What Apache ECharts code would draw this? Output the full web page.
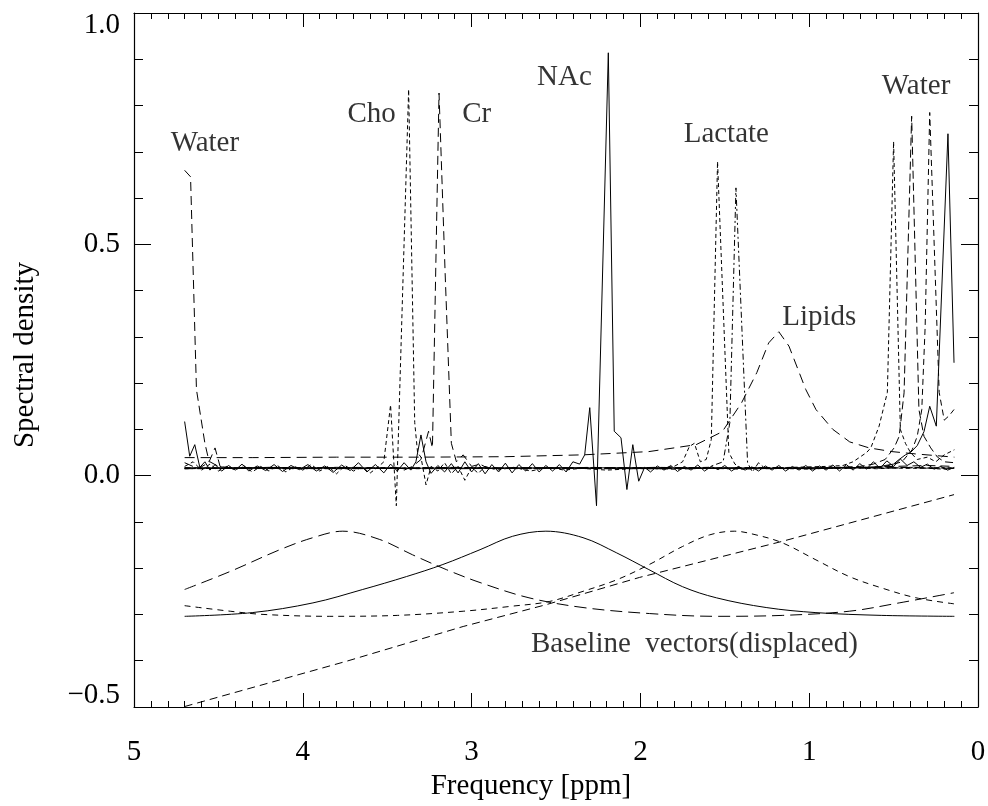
<!DOCTYPE html>
<html>
<head>
<meta charset="utf-8">
<script src="https://cdn.jsdelivr.net/npm/echarts@6/dist/echarts.min.js"></script>
<style>
html,body{margin:0;padding:0;background:#fff;}
#chart{width:988px;height:806px;}
</style>
</head>
<body>
<div id="chart"></div>
<script>
// ---- Axis ticks ----
var xTicks = [5, 4, 3, 2, 1, 0];
var yTickLabels = {"1": "1.0", "0.5": "0.5", "0": "0.0", "-0.5": "\u22120.5"};

// ---- Spectral components: [ppm, density] ----
var waterLeft = [[4.70,0.66],[4.665,0.646],[4.63,0.186],[4.58,0.07],[4.555,0.03],[4.52,0.06],[4.49,0.02],[4.45,0.016],[4.3,0.018],[4.0,0.016],[3.7,0.018],[3.4,0.016],[3.1,0.018],[2.8,0.016],[2.5,0.017],[2.2,0.016],[1.9,0.018],[1.6,0.016],[1.3,0.017],[1.0,0.016],[0.7,0.018],[0.5,0.02],[0.3,0.022],[0.14,0.02]];

var cho = [[4.70,0.02],[4.65,0.03],[4.60,0.012],[4.55,0.025],[4.50,0.01],[4.45,0.02],[4.40,0.012],[4.35,0.022],[4.30,0.008],[4.25,0.02],[4.20,0.01],[4.15,0.022],[4.10,0.008],[4.05,0.02],[4.00,0.012],[3.95,0.024],[3.90,0.01],[3.85,0.02],[3.80,0.004],[3.75,0.022],[3.70,0.01],[3.65,0.018],[3.60,0.006],[3.55,0.02],[3.52,0.03],[3.48,0.153],[3.446,-0.065],[3.373,0.835],[3.337,0.115],[3.32,0.05],[3.30,0.04],[3.27,-0.02],[3.24,0.02],[3.20,0.01],[3.16,0.028],[3.12,0.004],[3.08,0.02],[3.04,-0.01],[3.00,0.018],[2.96,0.005],[2.92,0.02],[2.85,0.012],[2.75,0.018],[2.65,0.01],[2.55,0.018],[2.45,0.012],[2.35,0.016],[2.2,0.012],[2.0,0.016],[1.8,0.014],[1.6,0.016],[1.4,0.014],[1.2,0.016],[1.0,0.014],[0.8,0.018],[0.6,0.015],[0.4,0.018],[0.2,0.014],[0.14,0.016]];

var cr = [[4.70,0.028],[4.62,0.015],[4.55,0.03],[4.50,0.02],[4.40,0.016],[4.20,0.018],[4.00,0.016],[3.80,0.018],[3.60,0.016],[3.45,0.018],[3.40,0.012],[3.35,0.02],[3.30,0.035],[3.255,0.096],[3.232,0.06],[3.193,0.827],[3.157,0.44],[3.12,0.07],[3.09,0.03],[3.05,0.045],[3.00,0.02],[2.95,0.025],[2.9,0.015],[2.7,0.017],[2.5,0.016],[2.3,0.018],[2.0,0.016],[1.7,0.017],[1.4,0.016],[1.1,0.017],[0.8,0.016],[0.5,0.018],[0.3,0.017],[0.14,0.016]];

var nac = [[4.70,0.117],[4.67,0.042],[4.64,0.067],[4.61,0.018],[4.58,0.03],[4.55,0.012],[4.52,0.024],[4.48,0.01],[4.44,0.022],[4.40,0.012],[4.36,0.025],[4.32,0.01],[4.27,0.021],[4.22,0.011],[4.17,0.024],[4.12,0.009],[4.07,0.022],[4.02,0.013],[3.97,0.024],[3.92,0.01],[3.87,0.021],[3.82,0.007],[3.77,0.023],[3.72,0.011],[3.67,0.028],[3.62,0.008],[3.57,0.024],[3.52,0.006],[3.48,0.025],[3.44,0.01],[3.40,0.028],[3.36,0.012],[3.33,0.03],[3.30,0.088],[3.27,0.03],[3.24,0.005],[3.20,0.022],[3.16,0.008],[3.12,0.026],[3.08,0.006],[3.04,0.03],[3.00,0.008],[2.96,0.026],[2.92,0.004],[2.88,0.024],[2.84,0.008],[2.80,0.027],[2.76,0.006],[2.72,0.024],[2.68,0.01],[2.64,0.026],[2.60,0.008],[2.56,0.022],[2.52,0.01],[2.48,0.024],[2.44,0.008],[2.40,0.03],[2.36,0.025],[2.33,0.045],[2.30,0.147],[2.26,-0.065],[2.19,0.914],[2.155,0.096],[2.115,0.082],[2.08,-0.03],[2.045,0.067],[2.01,-0.012],[1.975,0.018],[1.94,0.008],[1.90,0.021],[1.86,0.012],[1.82,0.022],[1.78,0.009],[1.74,0.02],[1.70,0.012],[1.66,0.023],[1.62,0.01],[1.58,0.02],[1.54,0.013],[1.50,0.022],[1.46,0.01],[1.42,0.02],[1.38,0.012],[1.34,0.019],[1.30,0.01],[1.26,0.021],[1.22,0.012],[1.18,0.022],[1.14,0.01],[1.10,0.02],[1.06,0.012],[1.02,0.022],[0.98,0.01],[0.94,0.021],[0.90,0.012],[0.86,0.023],[0.82,0.01],[0.78,0.024],[0.74,0.012],[0.70,0.026],[0.66,0.014],[0.62,0.03],[0.58,0.016],[0.54,0.032],[0.50,0.02],[0.46,0.036],[0.42,0.022],[0.38,0.03],[0.34,0.018],[0.30,0.025],[0.26,0.014],[0.22,0.02],[0.18,0.012],[0.14,0.018]];

var lactateA = [[4.70,0.015],[4.2,0.017],[3.7,0.015],[3.2,0.017],[2.7,0.015],[2.2,0.017],[1.9,0.016],[1.80,0.02],[1.75,0.03],[1.71,0.063],[1.68,0.07],[1.645,0.03],[1.61,0.035],[1.58,0.078],[1.543,0.679],[1.476,0.05],[1.44,0.025],[1.40,0.015],[1.3,0.017],[1.0,0.015],[0.7,0.017],[0.4,0.016],[0.14,0.017]];

var lactateB = [[4.70,0.016],[4.0,0.015],[3.3,0.017],[2.6,0.016],[1.9,0.015],[1.6,0.018],[1.51,0.03],[1.47,0.115],[1.434,0.622],[1.365,0.028],[1.337,0.008],[1.30,0.028],[1.26,0.015],[1.0,0.016],[0.6,0.017],[0.14,0.016]];

var lipids = [[4.70,0.039],[4.3,0.039],[3.8,0.04],[3.3,0.04],[2.8,0.041],[2.34,0.045],[1.95,0.052],[1.67,0.067],[1.515,0.095],[1.40,0.158],[1.31,0.223],[1.24,0.287],[1.18,0.311],[1.12,0.28],[1.02,0.186],[0.96,0.143],[0.86,0.10],[0.76,0.073],[0.645,0.06],[0.51,0.052],[0.37,0.047],[0.14,0.04]];

var waterRightA = [[4.70,0.016],[4.0,0.017],[3.3,0.015],[2.6,0.017],[1.9,0.015],[1.2,0.017],[0.90,0.02],[0.80,0.022],[0.74,0.03],[0.70,0.04],[0.66,0.05],[0.635,0.06],[0.586,0.107],[0.537,0.18],[0.50,0.722],[0.46,0.10],[0.43,0.07],[0.40,0.05],[0.36,0.035],[0.30,0.04],[0.25,0.03],[0.20,0.045],[0.14,0.056]];

var waterRightB = [[4.70,0.015],[3.9,0.017],[3.1,0.015],[2.3,0.017],[1.5,0.016],[0.9,0.017],[0.70,0.02],[0.62,0.025],[0.55,0.035],[0.497,0.06],[0.467,0.085],[0.438,0.179],[0.393,0.777],[0.35,0.143],[0.32,0.085],[0.28,0.06],[0.24,0.04],[0.20,0.03],[0.14,0.028]];

var waterRightC = [[4.70,0.017],[3.8,0.015],[3.0,0.017],[2.2,0.015],[1.4,0.017],[0.8,0.016],[0.55,0.02],[0.45,0.03],[0.39,0.056],[0.36,0.085],[0.333,0.143],[0.313,0.323],[0.286,0.785],[0.23,0.18],[0.20,0.12],[0.17,0.13],[0.142,0.143]];

var waterRightD = [[4.70,0.017],[3.5,0.016],[2.3,0.017],[1.1,0.016],[0.60,0.018],[0.55,0.022],[0.50,0.025],[0.467,0.035],[0.43,0.045],[0.40,0.05],[0.36,0.065],[0.32,0.095],[0.286,0.15],[0.247,0.107],[0.178,0.739],[0.142,0.244]];

// ---- Baseline vectors (displaced) ----
var baseSolid = [[4.70,-0.304],[4.30,-0.296],[3.94,-0.275],[3.645,-0.246],[3.385,-0.218],[3.17,-0.192],[2.95,-0.16],[2.757,-0.131],[2.56,-0.12],[2.34,-0.134],[2.14,-0.167],[1.95,-0.203],[1.75,-0.24],[1.55,-0.264],[1.255,-0.285],[0.96,-0.296],[0.57,-0.302],[0.14,-0.304]];
var baseLongDash = [[4.70,-0.246],[4.43,-0.207],[4.136,-0.16],[3.94,-0.134],[3.763,-0.12],[3.544,-0.138],[3.35,-0.171],[3.15,-0.203],[2.95,-0.231],[2.66,-0.264],[2.34,-0.285],[1.947,-0.298],[1.55,-0.304],[1.16,-0.302],[0.763,-0.293],[0.467,-0.275],[0.142,-0.253]];
var baseShortDash = [[4.70,-0.281],[4.43,-0.293],[4.23,-0.30],[3.84,-0.304],[3.44,-0.302],[3.05,-0.293],[2.757,-0.282],[2.54,-0.272],[2.34,-0.25],[2.14,-0.225],[1.947,-0.192],[1.75,-0.153],[1.59,-0.128],[1.444,-0.12],[1.315,-0.128],[1.16,-0.145],[0.96,-0.182],[0.763,-0.218],[0.568,-0.243],[0.367,-0.264],[0.142,-0.277]];
var baseLinear = [[4.70,-0.499],[3.74,-0.401],[3.05,-0.326],[2.56,-0.279],[2.006,-0.22],[1.16,-0.142],[0.142,-0.041]];

// ---- Annotations ----
var noteText = ["Water", "Cho", "Cr", "NAc", "Lactate", "Lipids", "Water", "Baseline  vectors(displaced)"];
var noteX = [4.58, 3.592, 2.97, 2.45, 1.491, 0.94, 0.367, 1.68];
var noteY = [0.718, 0.781, 0.781, 0.86, 0.737, 0.342, 0.841, -0.365];

var FONT = "Liberation Serif";
var FS = 29;

function lineSeries(name, data, dash, width) {
  return {
    name: name, type: 'line', data: data, showSymbol: false, symbol: 'none',
    smooth: false, silent: true,
    lineStyle: {color: '#000', width: width || 1, type: dash || 'solid'}
  };
}
function smoothSeries(name, data, dash) {
  var s = lineSeries(name, data, dash, 1);
  s.smooth = 0.35;
  return s;
}

var notes = noteText.map(function (t, i) { return {name: t, value: [noteX[i], noteY[i]]}; });

var axisLineStyle = {color: '#000', width: 1.2};
function xAxisCfg(pos, showLabel) {
  return {
    type: 'value', position: pos, min: 0, max: 5, interval: 1, inverse: true,
    axisLine: {show: true, onZero: false, lineStyle: axisLineStyle},
    axisTick: {show: true, inside: true, length: 14, lineStyle: {color: '#000', width: 1}},
    minorTick: {show: true, splitNumber: 10, length: 6, lineStyle: {color: '#000', width: 1}},
    splitLine: {show: false}, minorSplitLine: {show: false},
    axisLabel: {show: showLabel, color: '#000', fontFamily: FONT, fontSize: FS, margin: 31,
      formatter: function (v) { return xTicks.indexOf(v) >= 0 ? String(v) : ''; }},
    name: showLabel ? 'Frequency [ppm]' : '', nameLocation: 'middle', nameGap: 64,
    nameTextStyle: {color: '#000', fontFamily: FONT, fontSize: FS, padding: [0, 50, 0, 0]}
  };
}
function yAxisCfg(pos, showLabel) {
  return {
    type: 'value', position: pos, min: -0.5, max: 1.0, interval: 0.5,
    axisLine: {show: true, onZero: false, lineStyle: axisLineStyle},
    axisTick: {show: true, inside: true, length: 17, lineStyle: {color: '#000', width: 1}},
    minorTick: {show: true, splitNumber: 5, length: 9, lineStyle: {color: '#000', width: 1}},
    splitLine: {show: false}, minorSplitLine: {show: false},
    axisLabel: {show: showLabel, color: '#000', fontFamily: FONT, fontSize: FS, margin: 14,
      formatter: function (v) {
        var key = String(Math.round(v * 10) / 10);
        var t = yTickLabels[key] || '';
        if (v > 0.9) return '{top|' + t + '}';
        if (v < -0.4) return '{bot|' + t + '}';
        return '{mid|' + t + '}';
      },
      rich: {
        top: {fontFamily: FONT, fontSize: FS, color: '#000', padding: [24, 0, 0, 0]},
        bot: {fontFamily: FONT, fontSize: FS, color: '#000', padding: [0, 0, 24, 0]},
        mid: {fontFamily: FONT, fontSize: FS, color: '#000'}
      }
    },
    name: showLabel ? 'Spectral density' : '', nameLocation: 'middle', nameGap: 94, nameRotate: 90,
    nameTextStyle: {color: '#000', fontFamily: FONT, fontSize: FS, padding: [0, 0, 0, 10]}
  };
}

var chart = echarts.init(document.getElementById('chart'), null, {renderer: 'canvas'});
chart.setOption({
  animation: false,
  backgroundColor: '#fff',
  textStyle: {fontFamily: FONT},
  grid: {left: 134, right: 10, top: 13, bottom: 99, containLabel: false, outerBoundsMode: 'none'},
  xAxis: [xAxisCfg('bottom', true), xAxisCfg('top', false)],
  yAxis: [yAxisCfg('left', true), yAxisCfg('right', false)],
  series: [
    lineSeries('Water (left)', waterLeft, [9, 5]),
    lineSeries('Cho', cho, [4, 3]),
    lineSeries('Cr', cr, [9, 5]),
    lineSeries('NAc', nac, 'solid'),
    lineSeries('Lactate A', lactateA, [4, 3]),
    lineSeries('Lactate B', lactateB, [6, 3, 2, 3]),
    lineSeries('Lipids', lipids, [10, 6]),
    lineSeries('Water A', waterRightA, [4, 3]),
    lineSeries('Water B', waterRightB, [8, 4]),
    lineSeries('Water C', waterRightC, [6, 4]),
    lineSeries('Water D', waterRightD, 'solid'),
    smoothSeries('Baseline 1', baseSolid, 'solid'),
    smoothSeries('Baseline 2', baseLongDash, [12, 6]),
    smoothSeries('Baseline 3', baseShortDash, [6, 5]),
    lineSeries('Baseline 4', baseLinear, [8, 5]),
    {
      name: 'notes', type: 'scatter', data: notes, symbolSize: 0, silent: true, z: 10,
      label: {show: true, position: 'inside', formatter: '{b}', color: '#000',
        fontFamily: FONT, fontSize: FS, align: 'center', verticalAlign: 'middle'}
    }
  ]
});
</script>
</body>
</html>
